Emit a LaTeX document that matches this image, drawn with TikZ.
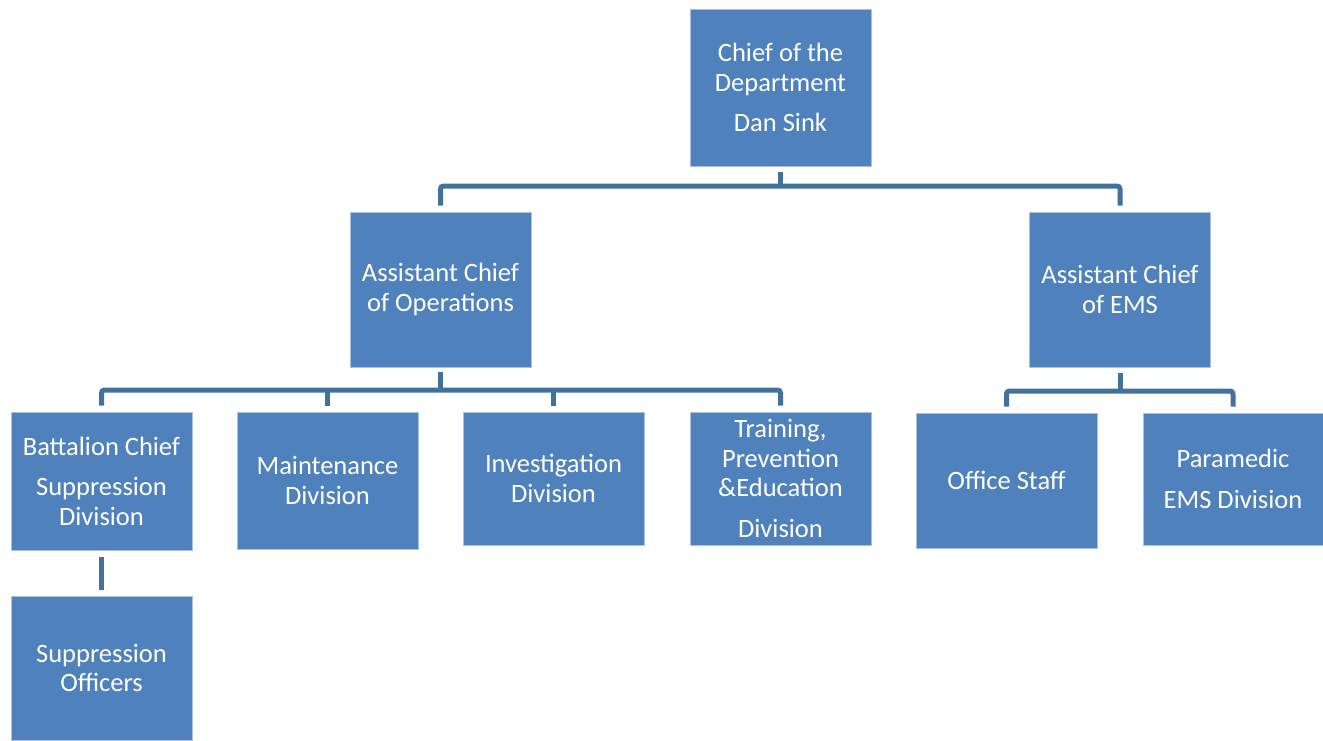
\documentclass[tikz,border=0pt]{standalone}
\usepackage{fontspec}
\setmainfont{Carlito}
\definecolor{boxblue}{HTML}{4F81BD}
\definecolor{boxedge}{HTML}{A9C0DE}
\definecolor{linecol}{HTML}{41719C}
\begin{document}
\begin{tikzpicture}[x=1pt,y=-1pt,
  box/.style={rectangle, fill=boxblue, draw=boxedge, line width=0.8pt, minimum width=181pt,
    text=white, align=center, inner sep=2pt, font=\fontsize{26.5}{29.5}\selectfont},
  conn/.style={draw=linecol, line width=5pt, rounded corners=3pt}]
\useasboundingbox (0,0) rectangle (1323,740);
% level 1
\node[box, minimum height=157pt] (chief) at (780.5,87.5) {Chief of the\\Department\\[11pt]Dan Sink};
% level 2
\node[box, minimum height=155pt] (ops) at (440.5,289.5) {Assistant Chief\\of Operations};
\node[box, minimum height=155pt] (ems) at (1120,289.5) {Assistant Chief\\of EMS};
% level 3
\node[box, minimum height=138pt] (batt) at (101.5,481) {Battalion Chief\\[11pt]Suppression\\Division};
\node[box, minimum height=137pt] (maint) at (327.5,480.5) {Maintenance\\Division};
\node[box, minimum height=133pt] (inv) at (553.5,478.5) {Investigation\\Division};
\node[box, minimum height=133pt] (train) at (780.5,478.5) {Training,\\Prevention\\\&Education\\[11pt]Division};
\node[box, minimum height=135pt] (office) at (1006.5,480.5) {Office Staff};
\node[box, minimum height=132pt, minimum width=180pt] (para) at (1233,479) {Paramedic\\[11pt]EMS Division};
% level 4
\node[box, minimum height=144pt] (supp) at (101.5,668) {Suppression\\Officers};
% bar coordinates
\coordinate (b1) at (780.5,186);
\coordinate (b2) at (440.5,390);
\coordinate (b3) at (1120,391);
% chief -> assistants
\draw[conn] ([yshift=-6pt]chief.south) -- (chief.south |- b1);
\draw[conn] ([yshift=6pt]ops.north) |- (b1) -| ([yshift=6pt]ems.north);
% ops -> divisions
\draw[conn] ([yshift=-5pt]ops.south) -- (ops.south |- b2);
\draw[conn] ([yshift=6pt]batt.north) |- (b2) -| ([yshift=6pt]train.north);
\draw[conn] ([yshift=6pt]maint.north) -- (maint.north |- b2);
\draw[conn] ([yshift=6pt]inv.north) -- (inv.north |- b2);
% ems -> units
\draw[conn] ([yshift=-6pt]ems.south) -- (ems.south |- b3);
\draw[conn] ([yshift=6pt]office.north) |- (b3) -| ([yshift=6pt]para.north);
% battalion -> officers
\draw[conn, rounded corners=0pt] ([yshift=-7pt]batt.south) -- ([yshift=6pt]supp.north);
\end{tikzpicture}
\end{document}
